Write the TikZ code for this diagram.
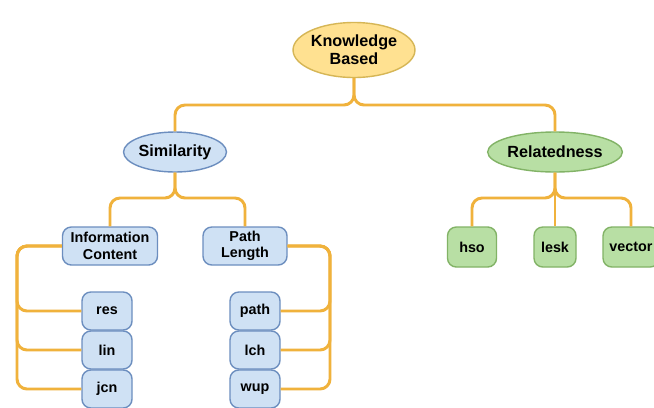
\documentclass[tikz,border=0pt]{standalone}
\usepackage{fontspec}
\setmainfont{Liberation Sans}
\usepackage{tikz}
\usetikzlibrary{shapes.geometric}
\definecolor{kb_yellow}{RGB}{255, 225, 145}
\definecolor{kb_yellowline}{RGB}{214, 182, 86}
\definecolor{kb_blue}{RGB}{207, 225, 244}
\definecolor{kb_blueline}{RGB}{108, 142, 191}
\definecolor{kb_green}{RGB}{184, 223, 164}
\definecolor{kb_greenline}{RGB}{130, 179, 102}
\definecolor{kb_orange}{RGB}{240, 178, 60}
\tikzstyle{yn}=[ellipse,fill=kb_yellow,draw=kb_yellowline,line width=1pt,
  inner sep=0pt,minimum width=2.95cm,minimum height=1.375cm,align=center,
  font=\bfseries\fontsize{11.5}{12.8}\selectfont]
\tikzstyle{bn}=[ellipse,fill=kb_blue,draw=kb_blueline,line width=1pt,
  inner sep=0pt,minimum width=2.4cm,minimum height=1cm,
  font=\bfseries\fontsize{11.5}{12.8}\selectfont]
\tikzstyle{gn}=[ellipse,fill=kb_green,draw=kb_greenline,line width=1pt,
  inner sep=0pt,minimum width=3cm,minimum height=1cm,
  font=\bfseries\fontsize{11.5}{12.8}\selectfont]
\tikzstyle{bb}=[rectangle,rounded corners=0.22cm,fill=kb_blue,draw=kb_blueline,
  line width=1pt,inner sep=0pt,minimum width=1.25cm,minimum height=0.95cm,
  align=center,font=\bfseries\fontsize{10.2}{11.8}\selectfont]
\tikzstyle{gb}=[rectangle,rounded corners=0.22cm,fill=kb_green,draw=kb_greenline,
  line width=1pt,inner sep=0pt,minimum width=1.225cm,minimum height=1cm,
  font=\bfseries\fontsize{10.2}{11.8}\selectfont]
\tikzstyle{edge}=[draw=kb_orange,line width=2.1pt,rounded corners=0.25cm]
\tikzstyle{none}=[inner sep=0pt,minimum size=0pt]

\begin{document}
\begin{tikzpicture}
		\useasboundingbox [fill=white] (0, 0) rectangle (16.35, 10.175);
		\node [style=yn] (0) at (8.85, 8.925) {Knowledge\\Based};
		\node [style=bn] (1) at (4.375, 6.375) {Similarity};
		\node [style=gn] (2) at (13.875, 6.375) {Relatedness};
		\node [style=bb, minimum width=2.375cm] (3) at (2.75, 4.025) {Information\\Content};
		\node [style=bb, minimum width=2.1cm] (4) at (6.125, 4.025) {Path\\Length};
		\node [style=bb] (5) at (2.675, 2.4) {res};
		\node [style=bb] (6) at (2.675, 1.425) {lin};
		\node [style=bb] (7) at (2.675, 0.45) {jcn};
		\node [style=bb] (8) at (6.375, 2.4) {path};
		\node [style=bb] (9) at (6.375, 1.425) {lch};
		\node [style=bb] (10) at (6.375, 0.45) {wup};
		\node [style=gb] (11) at (11.8, 4.0) {hso};
		\node [style=gb, minimum width=1.05cm] (12) at (13.875, 4.0) {lesk};
		\node [style=gb, minimum width=1.4cm] (13) at (15.775, 4.0) {vector};
		\node [style=none] (14) at (8.85, 7.55) {};
		\node [style=none] (15) at (4.375, 5.225) {};
		\node [style=none] (16) at (13.875, 5.225) {};
		\node [style=none] (17) at (0.425, 4.025) {};
		\node [style=none] (18) at (8.25, 4.025) {};
		\draw [style=edge] (0) -- (14.center) -| (1);
		\draw [style=edge] (0) -- (14.center) -| (2);
		\draw [style=edge] (1) -- (15.center) -| (3);
		\draw [style=edge] (1) -- (15.center) -| (4);
		\draw [style=edge] (2) -- (16.center) -| (11);
		\draw [style=edge] (2) -- (12);
		\draw [style=edge] (2) -- (16.center) -| (13);
		\draw [style=edge] (3) -- (17.center) |- (5);
		\draw [style=edge] (3) -- (17.center) |- (6);
		\draw [style=edge] (3) -- (17.center) |- (7);
		\draw [style=edge] (4) -- (18.center) |- (8);
		\draw [style=edge] (4) -- (18.center) |- (9);
		\draw [style=edge] (4) -- (18.center) |- (10);
\end{tikzpicture}
\end{document}
